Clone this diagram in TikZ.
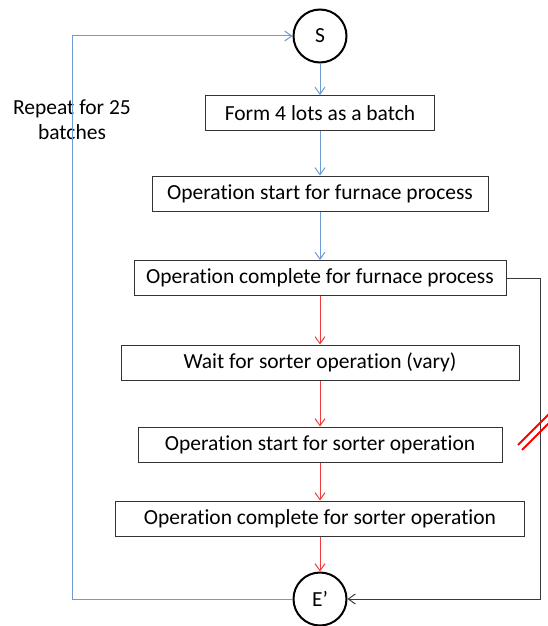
\documentclass[tikz,border=0pt]{standalone}
\usepackage{fontspec}
\setmainfont{Carlito}[Ligatures=NoCommon]
\definecolor{FlowBlue}{HTML}{6E9BD1}
\definecolor{FlowRed}{HTML}{F03C3C}
\definecolor{EdgeGray}{HTML}{3A3A3A}
\definecolor{BoxGray}{HTML}{333333}
\usetikzlibrary{arrows.meta}
\tikzset{
  stepbox/.style={draw=BoxGray, line width=1pt, fill=white, align=center, minimum height=35pt, inner sep=4pt, font=\fontsize{21.5}{25}\selectfont},
  endcircle/.style={circle, draw=black, line width=2pt, minimum size=53pt, inner sep=0pt, font=\fontsize{21.5}{25}\selectfont},
  bluearrow/.style={-{Straight Barb[length=7pt, width=10pt]}, line width=1pt, draw=FlowBlue},
  redarrow/.style={-{Straight Barb[length=7pt, width=10pt]}, line width=1pt, draw=FlowRed},
  grayarrow/.style={-{Straight Barb[length=7pt, width=10pt]}, line width=1pt, draw=EdgeGray}
}
\begin{document}
\begin{tikzpicture}[x=1pt, y=-1pt,
  slashmark/.style={draw=red, line width=1.8pt}
]
\useasboundingbox (0,0) rectangle (547,626);

\node[endcircle] (start) at (320,36) {S};
\node[stepbox, minimum width=229pt] (form) at (320,113) {Form 4 lots as a batch};
\node[stepbox, minimum width=336pt] (fstart) at (320,193.5) {Operation start for furnace process};
\node[stepbox, minimum width=372pt] (fcomplete) at (320,278) {Operation complete for furnace process};
\node[stepbox, minimum width=398pt] (wait) at (320,362.5) {Wait for sorter operation (vary)};
\node[stepbox, minimum width=364pt] (sstart) at (320,444.5) {Operation start for sorter operation};
\node[stepbox, minimum width=409pt] (scomplete) at (320,518.5) {Operation complete for sorter operation};
\node[endcircle] (eend) at (320,599) {E’};

\node[align=center, font=\fontsize{21.5}{25}\selectfont] (repeat) at (72,120) {Repeat for 25\\batches};

\coordinate (lturn) at (72,599);
\coordinate (rturn) at (540,278);

\draw[bluearrow] (start) -- (form);
\draw[bluearrow] (form) -- (fstart);
\draw[bluearrow] (fstart) -- (fcomplete);
\draw[redarrow] (fcomplete) -- (wait);
\draw[redarrow] (wait) -- (sstart);
\draw[redarrow] (sstart) -- (scomplete);
\draw[redarrow] (scomplete) -- (eend);

% loop back and skip line
\draw[bluearrow] (eend.west) -- (lturn) |- (start.west);
\draw[grayarrow] (fcomplete.east) -- (rturn) |- (eend.east);

\draw[slashmark] (518,445) -- (553,410);
\draw[slashmark] (522,450) -- (557,415);
\end{tikzpicture}
\end{document}
